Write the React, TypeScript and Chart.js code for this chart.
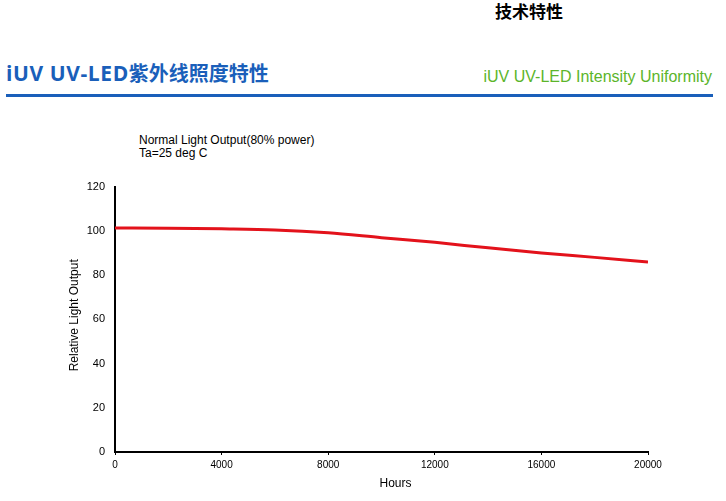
import React, { useEffect, useRef } from "react";
import { Chart, registerables } from "chart.js";

Chart.register(...registerables);

const hours = [0, 2000, 4000, 6000, 8000, 10000, 12000, 14000, 16000, 18000, 20000];
const relativeOutput = [101.3, 101.2, 100.9, 100.4, 99.1, 96.9, 94.8, 92.3, 90.0, 88.0, 85.9];
const xTicks = [0, 4000, 8000, 12000, 16000, 20000];
const yTicks = [0, 20, 40, 60, 80, 100, 120];

const pageTitle = "技术特性";
const titleLatin = "iUV UV-LED";
const titleCjk = "紫外线照度特性";
const subtitleEn = "iUV UV-LED Intensity Uniformity";
const noteLines = ["Normal Light Output(80% power)", "Ta=25 deg C"];
const xAxisTitle = "Hours";
const yAxisTitle = "Relative Light Output";

const SANS = '"Liberation Sans", Arial, sans-serif';

const axisTitlePlugin = {
  id: "axisTitles",
  afterDraw(chart: any) {
    const { ctx, chartArea: a } = chart;
    ctx.save();
    ctx.fillStyle = "#000";
    ctx.font = `12px ${SANS}`;
    ctx.textAlign = "center";
    ctx.textBaseline = "middle";
    ctx.fillText(xAxisTitle, (a.left + a.right) / 2 + 14, a.bottom + 32);
    ctx.translate(a.left - 40, (a.top + a.bottom) / 2 - 4);
    ctx.rotate(-Math.PI / 2);
    ctx.fillText(yAxisTitle, 0, 0);
    ctx.restore();
  },
};

function LineChart() {
  const ref = useRef<HTMLCanvasElement | null>(null);
  useEffect(() => {
    if (!ref.current) return;
    const chart = new Chart(ref.current, {
      type: "line",
      data: {
        datasets: [
          {
            data: hours.map((h, i) => ({ x: h, y: relativeOutput[i] })),
            borderColor: "#e3121b",
            borderWidth: 3,
            pointRadius: 0,
            cubicInterpolationMode: "monotone",
            fill: false,
          },
        ],
      },
      options: {
        animation: false,
        responsive: false,
        devicePixelRatio: 1,
        layout: { padding: { left: 0, right: 78, top: 12, bottom: 0 } },
        plugins: {
          legend: { display: false },
          tooltip: { enabled: false },
          title: { display: false },
        },
        scales: {
          x: {
            type: "linear",
            min: 0,
            max: 20000,
            afterBuildTicks: (s: any) => {
              s.ticks = xTicks.map((v) => ({ value: v }));
            },
            afterFit: (s: any) => {
              s.height = 49;
            },
            grid: {
              display: true,
              drawOnChartArea: false,
              drawTicks: true,
              tickLength: 3,
              color: "#000",
              lineWidth: 1,
            },
            border: { display: true, color: "#000", width: 2 },
            ticks: {
              color: "#000",
              font: { family: SANS, size: 10 },
              padding: 4,
              maxRotation: 0,
              autoSkip: false,
              callback: (v: any) => String(v),
            },
          },
          y: {
            type: "linear",
            min: 0,
            max: 120,
            afterBuildTicks: (s: any) => {
              s.ticks = yTicks.map((v) => ({ value: v }));
            },
            afterFit: (s: any) => {
              s.width = 115;
            },
            grid: { display: false, drawTicks: false },
            border: { display: true, color: "#000", width: 2 },
            ticks: {
              color: "#000",
              font: { family: SANS, size: 11 },
              padding: 10,
              autoSkip: false,
            },
          },
        },
      },
      plugins: [axisTitlePlugin],
    } as any);
    return () => chart.destroy();
  }, []);
  return (
    <canvas
      ref={ref}
      width={726}
      height={331}
      style={{ position: "absolute", left: 0, top: 170, width: 726, height: 331 }}
    />
  );
}

export default function App() {
  return (
    <div
      style={{
        position: "absolute",
        left: 0,
        top: 0,
        width: 726,
        height: 501,
        background: "#fff",
        overflow: "hidden",
      }}
    >
      <div
        style={{
          position: "absolute",
          left: 495,
          top: 1,
          fontFamily: '"Noto Sans CJK SC", sans-serif',
          fontWeight: 700,
          fontSize: 17,
          lineHeight: "20px",
          color: "#000",
          whiteSpace: "nowrap",
        }}
      >
        {pageTitle}
      </div>
      <div
        style={{
          position: "absolute",
          left: 6,
          top: 60,
          lineHeight: "26px",
          color: "#1a5fba",
          fontWeight: 700,
          whiteSpace: "nowrap",
        }}
      >
        <span style={{ fontFamily: '"Open Sans", sans-serif', fontSize: 21, letterSpacing: 0.6 }}>
          {titleLatin}
        </span>
        <span style={{ fontFamily: '"Noto Sans CJK SC", sans-serif', fontSize: 20 }}>{titleCjk}</span>
      </div>
      <div
        style={{
          position: "absolute",
          right: 14,
          top: 69,
          fontFamily: SANS,
          fontSize: 16,
          lineHeight: "16px",
          color: "#5cb52a",
          whiteSpace: "nowrap",
        }}
      >
        {subtitleEn}
      </div>
      <div
        style={{
          position: "absolute",
          left: 6,
          top: 94,
          width: 707,
          height: 3,
          background: "#1a5fba",
        }}
      />
      <div
        style={{
          position: "absolute",
          left: 139,
          top: 134,
          fontFamily: SANS,
          fontSize: 12,
          lineHeight: "13px",
          color: "#000",
          whiteSpace: "nowrap",
        }}
      >
        {noteLines.map((t) => (
          <div key={t}>{t}</div>
        ))}
      </div>
      <LineChart />
    </div>
  );
}
